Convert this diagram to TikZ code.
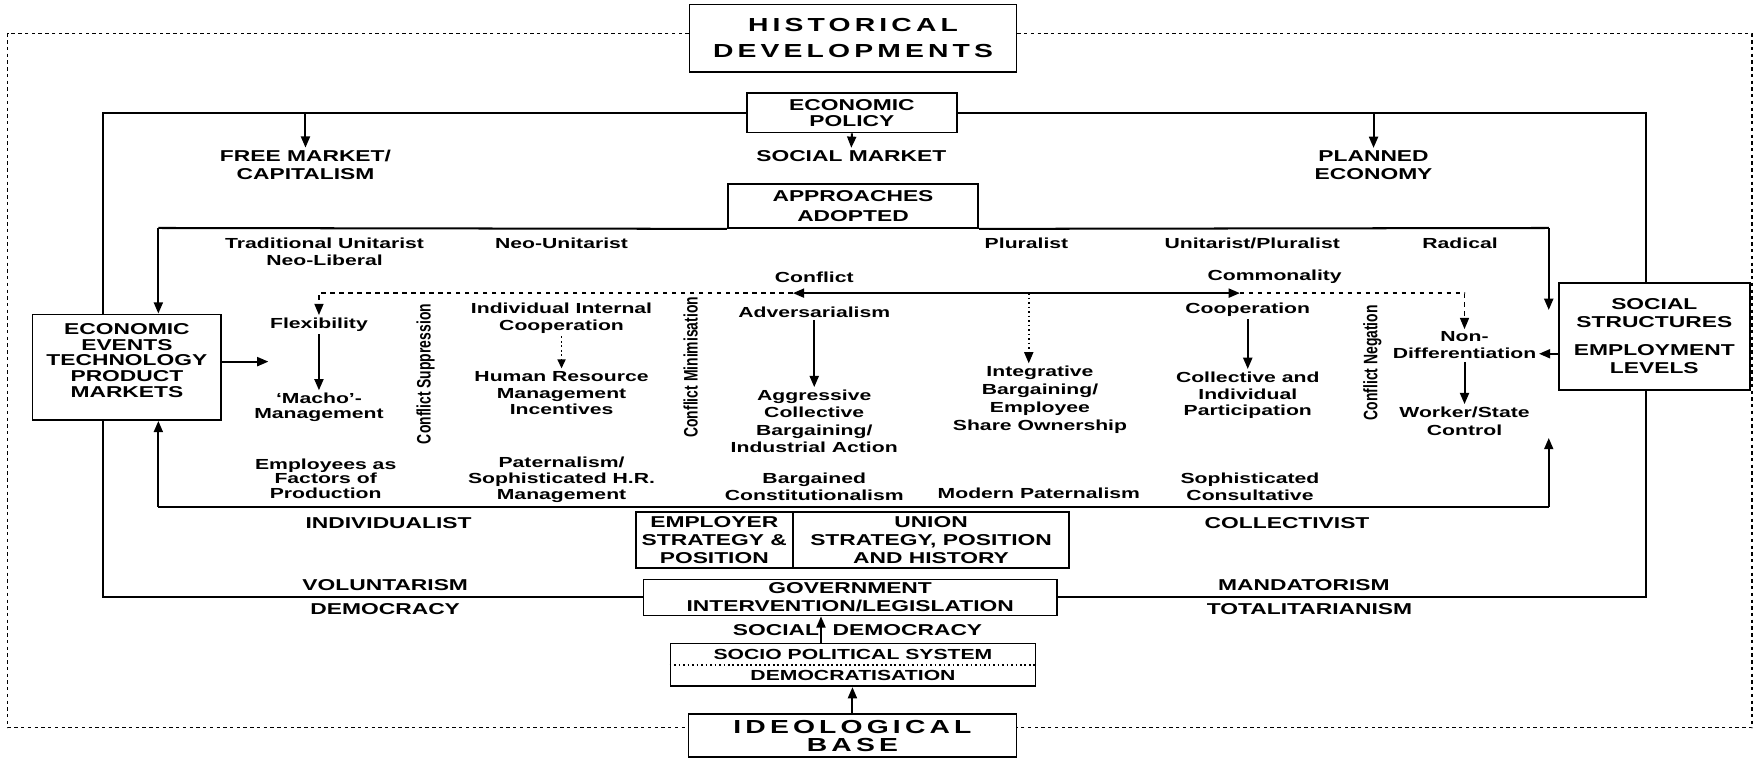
\documentclass[tikz,border=0pt]{standalone}
\usepackage{fontspec}
\setmainfont{Liberation Sans}[FakeStretch=1.45]
\newfontfamily\rotfont{Liberation Sans}
\newfontfamily\bigfont{Liberation Sans}[FakeStretch=1.5,LetterSpace=22]
\usetikzlibrary{arrows.meta}
\tikzset{
  capt/.style={font=\bfseries\fontsize{7}{#1}\selectfont, align=center, inner sep=1pt},
  capt/.default=8,
  lowt/.style={font=\bfseries\fontsize{6.5}{#1}\selectfont, align=center, inner sep=1pt},
  lowt/.default=7.5,
  rott/.style={font=\rotfont\bfseries\fontsize{6.2}{7}\selectfont, inner sep=0pt, transform shape, xscale=1.4, rotate=90},
  box/.style={draw, line width=0.8pt, align=center, inner sep=1pt, font=\bfseries\fontsize{7}{#1}\selectfont},
  box/.default=8,
  bigbox/.style={draw, line width=0.8pt, align=center, inner sep=1pt, font=\bigfont\bfseries\fontsize{8.4}{#1}\selectfont},
  bigbox/.default=11.5,
  frame/.style={line width=0.9pt},
  arr/.style={line width=0.9pt, -{Triangle[length=5pt,width=4pt]}},
  outer/.style={line width=0.5pt, dash pattern=on 1.5pt off 1.5pt},
  dsh/.style={line width=0.7pt, dash pattern=on 2pt off 2pt},
  dot/.style={line width=0.8pt, dash pattern=on 0.8pt off 1.2pt},
}
\begin{document}
\begin{tikzpicture}[x=0.5pt,y=-0.5pt]
\useasboundingbox (0,0) rectangle (1568,678);
\fill[white] (0,0) rectangle (1568,678);

% ---- boxes ----
\node[bigbox, minimum width=145.5pt, minimum height=30pt] (hist) at (759.5,34) {HISTORICAL\\DEVELOPMENTS};
\node[box=7, minimum width=93.5pt, minimum height=17.5pt] (econ) at (758.5,100.5) {ECONOMIC\\POLICY};
\node[box=9, minimum width=111.5pt, minimum height=19.5pt] (appr) at (759.5,183.5) {APPROACHES\\ADOPTED};
\node[draw, line width=0.8pt, minimum width=84pt, minimum height=47pt] (events) at (113,327) {};
\node[capt=7] (evt) at (113,321) {ECONOMIC\\EVENTS\\TECHNOLOGY\\PRODUCT\\MARKETS};
\node[box, minimum width=85pt, minimum height=47.5pt] (social) at (1473,299.5) {SOCIAL\\STRUCTURES\\[4.5pt]EMPLOYMENT\\LEVELS};
\node[box, minimum width=70pt, minimum height=25pt] (emp) at (636,481) {EMPLOYER\\STRATEGY \&\\POSITION};
\node[box, minimum width=123pt, minimum height=25pt] (union) at (829,481) {UNION\\STRATEGY, POSITION\\AND HISTORY};
\node[box, minimum width=184pt, minimum height=16pt] (gov) at (757,532) {GOVERNMENT\\INTERVENTION/LEGISLATION};
\node[draw, line width=0.8pt, align=center, inner sep=1pt, font=\bfseries\fontsize{6.5}{9.5}\selectfont, minimum width=162.5pt, minimum height=19pt] (socio) at (759.5,592) {SOCIO POLITICAL SYSTEM\\DEMOCRATISATION};
\node[bigbox=8, minimum width=146pt, minimum height=19pt] (ideo) at (759,655) {IDEOLOGICAL\\BASE};

% ---- caps labels ----
\node[capt] (fm) at (272,147) {FREE MARKET/\\CAPITALISM};
\node[capt] (sm) at (758,139) {SOCIAL MARKET};
\node[capt] (pe) at (1223,147) {PLANNED\\ECONOMY};
\node[capt] (indiv) at (346,466) {INDIVIDUALIST};
\node[capt] (collv) at (1146,466) {COLLECTIVIST};
\node[capt] (vol) at (343,521) {VOLUNTARISM};
\node[capt] (dem) at (343,542) {DEMOCRACY};
\node[capt] (mand) at (1161,521) {MANDATORISM};
\node[capt] (tot) at (1166,542) {TOTALITARIANISM};
\node[capt] (soc) at (691,561) {SOCIAL};
\node[capt] (demo) at (808,561) {DEMOCRACY};

% ---- inner labels ----
\node[lowt] (tu) at (289,224.5) {Traditional Unitarist\\Neo-Liberal};
\node[lowt] (nu) at (500,217) {Neo-Unitarist};
\node[lowt] (pl) at (914,217) {Pluralist};
\node[lowt] (up) at (1115,217) {Unitarist/Pluralist};
\node[lowt] (ra) at (1300,217) {Radical};
\node[lowt] (conf) at (725,247) {Conflict};
\node[lowt] (comm) at (1135,246) {Commonality};

\node[lowt] (flex) at (284,289) {Flexibility};
\node[lowt=6.5] (macho) at (284,362.5) {‘Macho’-\\Management};
\node[lowt=6.5] (empl) at (290,426) {Employees as\\Factors of\\Production};
\node[lowt] (indc) at (500,283.5) {Individual Internal\\Cooperation};
\node[lowt] (hrm) at (500,350) {Human Resource\\Management\\Incentives};
\node[lowt=7] (pat) at (500,427) {Paternalism/\\Sophisticated H.R.\\Management};
\node[lowt] (adv) at (725,278) {Adversarialism};
\node[lowt=7.7] (agg) at (725,375) {Aggressive\\Collective\\Bargaining/\\Industrial Action};
\node[lowt] (barg) at (725,433.5) {Bargained\\Constitutionalism};
\node[lowt=8] (integ) at (926,356) {Integrative\\Bargaining/\\Employee\\Share Ownership};
\node[lowt] (modp) at (925,439) {Modern Paternalism};
\node[lowt] (coop) at (1111,276) {Cooperation};
\node[lowt] (coll) at (1111,352) {Collective and\\Individual\\Participation};
\node[lowt] (soph) at (1113,433.5) {Sophisticated\\Consultative};
\node[lowt] (non) at (1304,300) {Non-};
\node[lowt] (diff) at (1304,315) {Differentiation};
\node[lowt=8] (ws) at (1304,375) {Worker/State\\Control};

\begin{scope}[shift={(379,333)}]
\node[rott] (cs) at (0,0) {Conflict Suppression};
\end{scope}
\begin{scope}[shift={(615,327)}]
\node[rott] (cm) at (0,0) {Conflict Minimisation};
\end{scope}
\begin{scope}[shift={(1222,323)}]
\node[rott] (cn) at (0,0) {Conflict Negation};
\end{scope}

% ---- coordinates ----
\coordinate (dTL) at (7,30);
\coordinate (dBL) at (7,648);
\coordinate (dTR) at (1560,30);
\coordinate (dBR) at (1560,648);
\coordinate (oTL) at (92,100.5);
\coordinate (oTR) at (1466,100.5);
\coordinate (oBL) at (92,532);
\coordinate (oBR) at (1466,532);
\coordinate (iTL) at (141,203);
\coordinate (iTR) at (1379,203);
\coordinate (iBL) at (141,451);
\coordinate (iBR) at (1379,451);
\coordinate (iTRend) at (1379,276);
\coordinate (iBRend) at (1379,390);
\coordinate (evend) at (239,322);
\coordinate (cmid) at (916,261);
\coordinate (cL) at (706,261);
\coordinate (cR) at (1104,261);
\coordinate (sda) at (731,561);

% ---- outer dashed frame ----
\draw[outer] (dTL -| hist.west) -- (dTL) -- (dBL) -- (dBL -| ideo.west);
\draw[outer] (dTR -| hist.east) -- (dTR) -- (dBR) -- (dBR -| ideo.east);

% ---- outer solid frame ----
\draw[frame] (econ.west) -- (oTL) -- (oTL |- events.north);
\draw[frame] (oTL |- events.south) -- (oBL) -- (gov.west);
\draw[frame] (econ.east) -- (oTR) -- (oTR |- social.north);
\draw[frame] (oTR |- social.south) -- (oBR) -- (gov.east);
\draw[arr] (fm |- oTL) -- (fm.north);
\draw[arr] (econ.south) -- (sm.north);
\draw[arr] (pe |- oTR) -- (pe.north);

% ---- inner frame ----
\draw[frame] (appr.south west) -- (iTL);
\draw[frame] (appr.south east) -- (iTR);
\draw[arr] (iTL) -- (iTL |- events.north);
\draw[arr] (iTR) -- (iTRend);
\draw[frame] (iBL) -- (iBR);
\draw[arr] (iBL) -- (iBL |- events.south);
\draw[arr] (iBR) -- (iBRend);
\draw[arr] (events.east |- evend) -- (evend);
\draw[arr] (social.west |- diff) -- (diff.east);

% ---- conflict / commonality line ----
\draw[arr] (cmid) -- (cL);
\draw[arr] (cmid) -- (cR);
\draw[dsh, -{Triangle[length=5pt,width=4pt]}] (cL) -| (flex.north);
\draw[dsh, -{Triangle[length=5pt,width=4pt]}] (cR) -| (non.north);
\draw[dot, -{Triangle[length=5pt,width=4pt]}] (cmid) -- (cmid |- integ.north);

% ---- column arrows ----
\draw[arr] (flex.south) -- (macho.north);
\draw[dot, -{Triangle[length=4pt,width=3.5pt]}] (indc.south) -- (hrm.north);
\draw[arr] (adv.south) -- (agg.north);
\draw[arr] (coop.south) -- (coll.north);
\draw[arr] (diff.south) -- (ws.north);

% ---- bottom ----
\draw[dot] (socio.west) -- (socio.east);
\draw[arr] (socio.north -| sda) -- (gov.south -| sda);
\draw[arr] (ideo.north) -- (ideo.north |- socio.south);
\end{tikzpicture}
\end{document}
